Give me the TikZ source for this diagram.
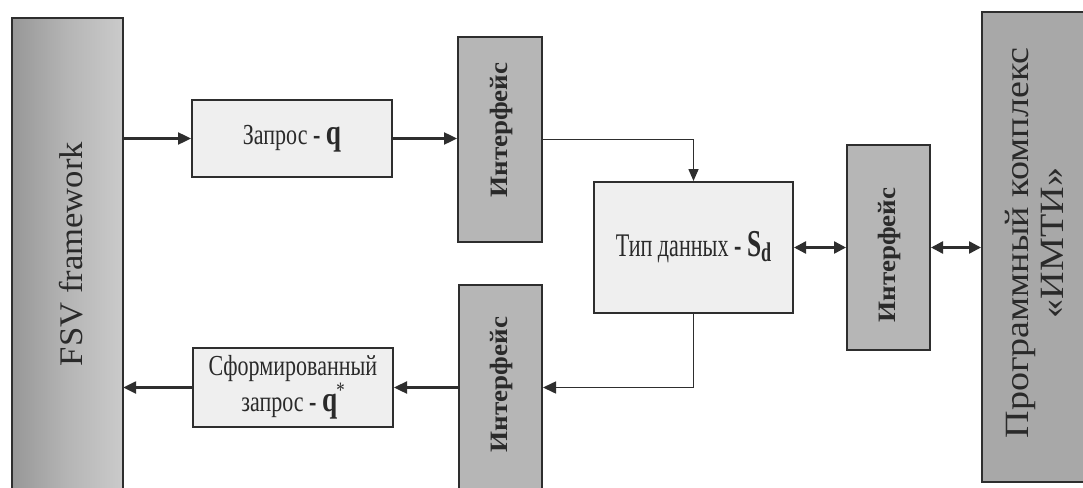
\documentclass[tikz,border=0pt]{standalone}
\usepackage{fontspec}
\setmainfont{Liberation Serif}
% condensed and expanded cuts of the same serif
\newfontfamily\narrowserif[FakeStretch=0.76]{Liberation Serif}
\newfontfamily\narrowerserif[FakeStretch=0.67]{Liberation Serif}
\newfontfamily\wideserif[FakeStretch=1.05]{Liberation Serif}
\newfontfamily\tallserif[FakeStretch=1.12]{Liberation Serif}
\newfontfamily\ifaceserif[FakeStretch=1.08]{Liberation Serif}
\usetikzlibrary{arrows.meta,calc}

\definecolor{boxline}{HTML}{2E2E2E}
\definecolor{panelgray}{HTML}{B6B6B6}
\definecolor{sidegray}{HTML}{A8A8A8}
\definecolor{lightbox}{HTML}{EFEFEF}
\definecolor{textgray}{HTML}{2A2A2A}

\tikzset{
  blk/.style={draw=boxline, line width=2pt, inner sep=0pt, text=textgray},
  lightblk/.style={blk, fill=lightbox, align=center},
  ifaceblk/.style={blk, fill=panelgray},
  flow/.style={draw=boxline, line width=2.4pt, -{Triangle[length=13pt,width=12pt]}},
  thinflow/.style={draw=boxline, line width=1.6pt, -{Triangle[length=12pt,width=10pt]}},
  twoway/.style={draw=boxline, line width=2.4pt, {Triangle[length=12pt,width=12pt]}-{Triangle[length=12pt,width=12pt]}},
  vlabel/.style={rotate=90, text=textgray},
  ifacetext/.style={vlabel, font=\ifaceserif\bfseries\fontsize{25}{26}\selectfont},
}

\begin{document}
\begin{tikzpicture}[x=1pt, y=-1pt]
  \useasboundingbox (0,0) rectangle (1083,487);
  \clip (0,0) rectangle (1083,487);
  \fill[white] (0,0) rectangle (1083,487);

  % side panels
  \path[draw=boxline, line width=2pt, left color=sidegray!90!black, right color=sidegray!60!white, middle color=sidegray!85!white]
    (12,18) rectangle (123,520);
  \node (fsv) [minimum width=111pt, minimum height=502pt, inner sep=0pt] at (67.5,269) {};
  \node[vlabel, font=\wideserif\fontsize{33}{36}\selectfont] at (71,254) {FSV framework};

  \node (prog) [blk, fill=sidegray, minimum width=130pt, minimum height=470pt] at (1047,247) {};
  \node[vlabel, font=\tallserif\fontsize{34}{35}\selectfont, align=center] at (1034,243)
    {Программный комплекс\\«ИМТИ»};

  % request and data-type boxes
  \node (zap) [lightblk, minimum width=200pt, minimum height=77pt, font=\narrowserif\fontsize{29}{30}\selectfont]
    at (292,138.5) {Запрос \textbf{- \fontsize{36}{36}\selectfont q}};
  \node (sform) [lightblk, minimum width=200pt, minimum height=79pt, font=\narrowserif\fontsize{29}{36}\selectfont]
    at (293,387.5) {Сформированный\\запрос \textbf{- \fontsize{36}{36}\selectfont q}\kern-1pt\raisebox{14pt}{\fontsize{22}{22}\selectfont *}};
  \node (tip) [lightblk, minimum width=199pt, minimum height=131pt, font=\narrowerserif\fontsize{33}{36}\selectfont]
    at (693.5,247.5) {Тип данных \textbf{- \fontsize{38}{38}\selectfont S\raisebox{-5pt}{\fontsize{27}{27}\selectfont d}}};

  % interfaces
  \node (ifTop) [ifaceblk, minimum width=84pt, minimum height=205pt] at (500,139.5) {};
  \node (ifBot) [ifaceblk, minimum width=83pt, minimum height=225pt] at (500.5,397.5) {};
  \node (ifRight) [ifaceblk, minimum width=83pt, minimum height=205pt] at (888.5,247.5) {};
  \node[ifacetext] at (501,130) {Интерфейс};
  \node[ifacetext] at (889,255) {Интерфейс};
  \node[ifacetext] at (501,384.5) {Интерфейс};

  % connectors
  \draw[flow] (fsv.east |- zap.west) -- (zap.west);
  \draw[flow] (zap.east) -- (ifTop.west |- zap.east);
  \draw[thinflow] (ifTop.east) -| (tip.north);
  \draw[twoway] (tip.east) -- (ifRight.west);
  \draw[twoway] (ifRight.east) -- (prog.west |- ifRight.east);
  \draw[flow, line width=1.6pt] (tip.south) |- (ifBot.east |- sform.east);
  \draw[flow] (ifBot.west |- sform.east) -- (sform.east);
  \draw[flow] (sform.west) -- (fsv.east |- sform.west);
\end{tikzpicture}
\end{document}
